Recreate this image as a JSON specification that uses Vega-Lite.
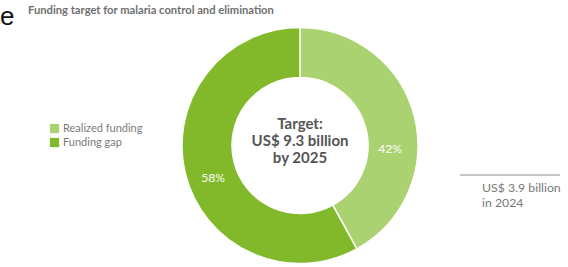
{
  "$schema": "https://vega.github.io/schema/vega-lite/v6.json",
  "width": 536,
  "height": 243,
  "autosize": {"type": "none"},
  "padding": {"left": 32, "top": 24, "right": 0, "bottom": 0},
  "background": "white",
  "config": {"view": {"stroke": null}},
  "layer": [
    {
      "data": {"values": [
        {"category": "Realized funding", "share": 42, "order": 1},
        {"category": "Funding gap", "share": 58, "order": 2}
      ]},
      "mark": {"type": "arc", "outerRadius": 118, "innerRadius": 68, "stroke": "white", "strokeWidth": 1.5},
      "encoding": {
        "theta": {"field": "share", "type": "quantitative", "stack": true},
        "order": {"field": "order", "type": "quantitative"},
        "color": {
          "field": "category", "type": "nominal",
          "scale": {"domain": ["Realized funding", "Funding gap"], "range": ["#abd271", "#82b92b"]},
          "legend": {
            "title": null, "orient": "none", "legendX": 17, "legendY": 99,
            "symbolType": "square", "symbolSize": 85, "symbolStrokeWidth": 0,
            "labelFont": "Lato", "labelFontSize": 11, "labelColor": "#7a7a7a",
            "rowPadding": 2, "labelOffset": 3
          }
        }
      }
    },
    {
      "data": {"values": [{"label": "42%"}]},
      "mark": {"type": "text", "font": "Lato", "fontSize": 12, "color": "white", "align": "center", "baseline": "middle"},
      "encoding": {"text": {"field": "label"}, "x": {"value": 358}, "y": {"value": 125}}
    },
    {
      "data": {"values": [{"label": "58%"}]},
      "mark": {"type": "text", "font": "Lato", "fontSize": 12, "color": "white", "align": "center", "baseline": "middle"},
      "encoding": {"text": {"field": "label"}, "x": {"value": 181}, "y": {"value": 153.5}}
    },
    {
      "data": {"values": [{"t": 1}]},
      "mark": {"type": "text", "font": "Lato", "fontWeight": "bold", "fontSize": 15, "color": "#555555", "align": "center", "baseline": "middle", "lineHeight": 17},
      "encoding": {"text": {"value": ["Target:", "US$ 9.3 billion", "by 2025"]}, "x": {"value": 268}, "y": {"value": 99.5}}
    },
    {
      "data": {"values": [{"t": 1}]},
      "mark": {"type": "rule", "color": "#8a8a8a", "strokeWidth": 1},
      "encoding": {"x": {"value": 428}, "x2": {"value": 528}, "y": {"value": 151}}
    },
    {
      "data": {"values": [{"t": 1}]},
      "mark": {"type": "text", "font": "Lato", "fontSize": 12.3, "color": "#7a7a7a", "align": "left", "baseline": "alphabetic", "lineHeight": 15},
      "encoding": {"text": {"value": ["US$ 3.9 billion", "in 2024"]}, "x": {"value": 450}, "y": {"value": 168}}
    },
    {
      "data": {"values": [{"t": 1}]},
      "mark": {"type": "text", "font": "Lato", "fontWeight": "bold", "fontSize": 11.2, "color": "#6f6f6f", "align": "left", "baseline": "middle"},
      "encoding": {"text": {"value": "Funding target for malaria control and elimination"}, "x": {"value": -4}, "y": {"value": -13}}
    },
    {
      "data": {"values": [{"t": 1}]},
      "mark": {"type": "text", "font": "Liberation Sans", "fontSize": 26, "color": "#111111", "align": "left", "baseline": "alphabetic"},
      "encoding": {"text": {"value": "e"}, "x": {"value": -32}, "y": {"value": 1}}
    }
  ]
}
